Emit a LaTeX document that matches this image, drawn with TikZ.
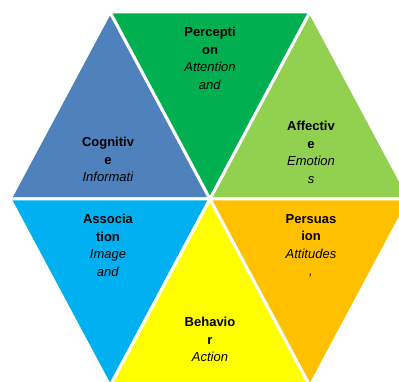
\documentclass[tikz,border=0pt]{standalone}
\usepackage{fontspec}
\setmainfont{Liberation Sans}
\begin{document}
\begin{tikzpicture}[x=1pt,y=-1pt,
  tri/.style={draw=white,line width=3pt,line join=round},
  lbl/.style={align=center,font=\fontsize{13}{17.5}\selectfont,inner sep=0pt,anchor=north}]
\useasboundingbox (0,0) rectangle (399,382);
\clip (0,0) rectangle (399,382);
\coordinate (TL) at (110,12);
\coordinate (TR) at (310,12);
\coordinate (L) at (10,199);
\coordinate (R) at (410,199);
\coordinate (BL) at (110,386);
\coordinate (BR) at (310,386);
\coordinate (C) at (210,199);
\fill[white] (0,0) rectangle (399,382);
\draw[tri,fill={rgb,255:red,79;green,129;blue,189}] (L) -- (TL) -- (C) -- cycle;
\draw[tri,fill={rgb,255:red,0;green,176;blue,80}] (TL) -- (TR) -- (C) -- cycle;
\draw[tri,fill={rgb,255:red,146;green,208;blue,80}] (C) -- (TR) -- (R) -- cycle;
\draw[tri,fill={rgb,255:red,0;green,176;blue,240}] (L) -- (C) -- (BL) -- cycle;
\draw[tri,fill={rgb,255:red,255;green,255;blue,0}] (C) -- (BR) -- (BL) -- cycle;
\draw[tri,fill={rgb,255:red,255;green,192;blue,0}] (C) -- (R) -- (BR) -- cycle;
\node[lbl] (perc) at (210,27) {\textbf{Percepti}\\\textbf{on}\\\textit{Attention}\\\textit{and}};
\node[lbl] (cogn) at (108,137) {\textbf{Cognitiv}\\\textbf{e}\\\textit{Informati}};
\node[lbl] (affe) at (311,121) {\textbf{Affectiv}\\\textbf{e}\\\textit{Emotion}\\\textit{s}};
\node[lbl] (asso) at (108,214) {\textbf{Associa}\\\textbf{tion}\\\textit{Image}\\\textit{and}};
\node[lbl] (pers) at (311,214) {\textbf{Persuas}\\\textbf{ion}\\\textit{Attitudes}\\\textit{,}};
\node[lbl] (beha) at (210,317) {\textbf{Behavio}\\\textbf{r}\\\textit{Action}};
\end{tikzpicture}
\end{document}
